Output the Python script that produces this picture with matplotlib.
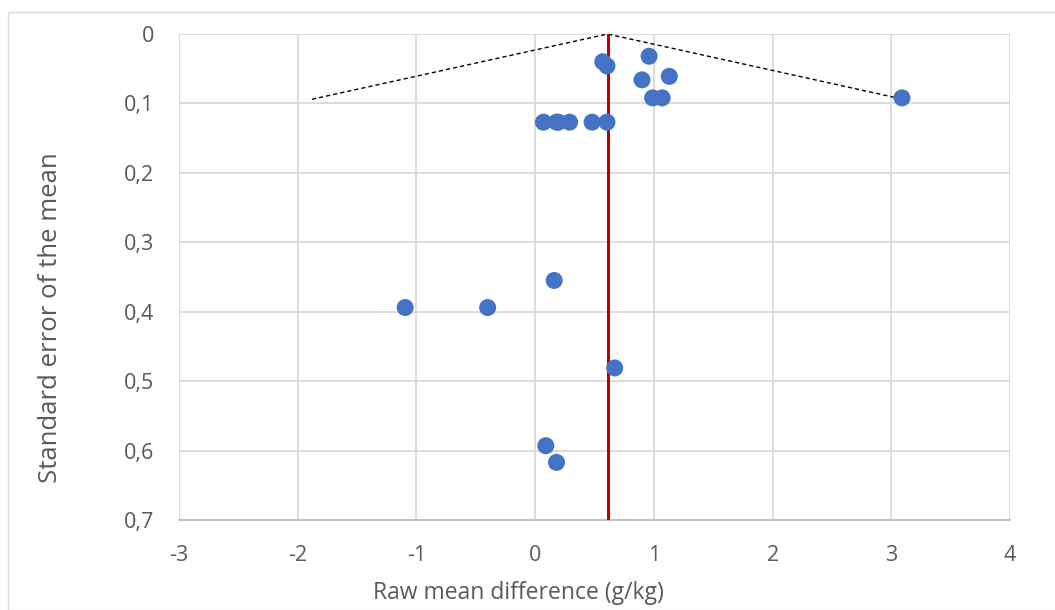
import matplotlib
matplotlib.use("Agg")
import matplotlib.pyplot as plt
from matplotlib.patches import Rectangle

plt.rcParams['font.family'] = ['Open Sans', 'DejaVu Sans']

# Study estimates: raw mean difference and standard error
mean_diff = [0.57, 0.605, 0.96, 0.90, 1.13, 0.99, 1.07, 3.09,
             0.07, 0.18, 0.195, 0.29, 0.48, 0.605,
             -1.095, -0.40, 0.16, 0.67, 0.09, 0.18]
std_err = [0.040, 0.046, 0.032, 0.066, 0.061, 0.092, 0.092, 0.092,
           0.127, 0.127, 0.127, 0.127, 0.127, 0.127,
           0.394, 0.394, 0.355, 0.481, 0.593, 0.617]

pooled = 0.61
funnel_x = [-1.88, 0.61, 3.10]
funnel_y = [0.094, 0.0, 0.094]

x_ticks = [-3, -2, -1, 0, 1, 2, 3, 4]
x_labels = ['-3', '-2', '-1', '0', '1', '2', '3', '4']
y_ticks = [0, 0.1, 0.2, 0.3, 0.4, 0.5, 0.6, 0.7]
y_labels = ['0', '0,1', '0,2', '0,3', '0,4', '0,5', '0,6', '0,7']

W, H = 1055, 610
fig = plt.figure(figsize=(W / 100, H / 100), dpi=100)
fig.patches.append(Rectangle((8 / W, 0), 1.2, 1 - 12 / H, transform=fig.transFigure,
                             fill=False, edgecolor='#d9d9d9', linewidth=1.0))
ax = fig.add_axes([179 / W, 1 - 520 / H, (1010 - 179) / W, (520 - 34) / H])

ax.set_xlim(-3, 4)
ax.set_ylim(0.7, 0)
ax.set_xticks(x_ticks)
ax.set_xticklabels(x_labels)
ax.set_yticks(y_ticks)
ax.set_yticklabels(y_labels)

ax.grid(True, color='#d9d9d9', linewidth=1.3)
ax.set_axisbelow(True)
for s in ['top', 'right', 'left']:
    ax.spines[s].set_visible(False)
ax.spines['bottom'].set_color('#bfbfbf')
ax.spines['bottom'].set_linewidth(1.3)

ax.tick_params(axis='both', length=0, labelsize=15.5, colors='#595959')
ax.tick_params(axis='x', pad=18)
ax.tick_params(axis='y', pad=18)

ax.plot(funnel_x, funnel_y, linestyle=(0, (3, 2.2)), color='black', linewidth=1.0, zorder=2)
ax.axvline(pooled, color='#c00000', linewidth=2.2, zorder=3)
ax.scatter(mean_diff, std_err, s=150, color='#4472c4', edgecolors='none', zorder=4)

ax.set_xlabel('Raw mean difference (g/kg)', fontsize=16.5, color='#595959', va='center')
ax.set_ylabel('Standard error of the mean', fontsize=18.5, color='#595959', va='center')
ax.xaxis.set_label_coords((518 - 179) / 831, (520 - 593) / 486)
ax.yaxis.set_label_coords((51 - 179) / 831, (520 - 318) / 486)

fig.savefig('out.png', dpi=100)
